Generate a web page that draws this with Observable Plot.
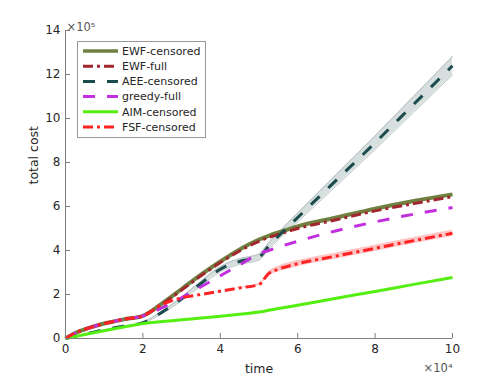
<!DOCTYPE html>
<html><head><meta charset="utf-8">
<script src="https://cdn.jsdelivr.net/npm/d3@7"></script>
<script src="https://cdn.jsdelivr.net/npm/@observablehq/plot@0.6"></script>
<style>
body{margin:0;background:#fff;}
#chart{position:relative;width:498px;height:380px;}
</style>
</head><body><div id="chart"></div>
<script>
// time in units of 1e4, cost in units of 1e5
const time         = [0, 0.25, 0.5, 1, 1.5, 2, 2.5, 3, 3.5, 4, 4.5, 5, 5.25, 5.5, 6, 7, 8, 9, 10];
const ewfCensored  = [0, 0.25, 0.42, 0.68, 0.87, 1.03, 1.60, 2.25, 2.90, 3.50, 4.05, 4.50, 4.67, 4.82, 5.10, 5.50, 5.90, 6.25, 6.55];
const ewfFull      = [0, 0.25, 0.42, 0.68, 0.87, 1.03, 1.57, 2.20, 2.85, 3.45, 3.98, 4.42, 4.59, 4.73, 5.00, 5.40, 5.80, 6.13, 6.45];
const aeeCensored  = [0, 0.10, 0.20, 0.40, 0.56, 0.72, 1.20, 1.80, 2.50, 3.15, 3.50, 3.70, 4.20, 4.65, 5.50, 7.20, 8.90, 10.65, 12.40];
const aeeSpread    = [0, 0, 0, 0, 0, 0.02, 0.05, 0.08, 0.10, 0.12, 0.13, 0.14, 0.15, 0.16, 0.20, 0.26, 0.31, 0.36, 0.42];
const greedyFull   = [0, 0.25, 0.42, 0.68, 0.87, 1.03, 1.40, 1.85, 2.35, 2.85, 3.35, 3.85, 4.00, 4.15, 4.42, 4.90, 5.30, 5.65, 5.95];
const aimCensored  = [0, 0.09, 0.18, 0.35, 0.52, 0.68, 0.77, 0.85, 0.93, 1.01, 1.10, 1.20, 1.28, 1.36, 1.51, 1.83, 2.14, 2.46, 2.77];
const fsfCensored  = [0, 0.25, 0.42, 0.68, 0.87, 1.03, 1.55, 1.85, 2.00, 2.15, 2.30, 2.45, 2.95, 3.15, 3.40, 3.75, 4.10, 4.45, 4.78];
const fsfSpread    = [0, 0, 0, 0, 0, 0, 0, 0, 0, 0, 0.02, 0.05, 0.10, 0.13, 0.14, 0.14, 0.14, 0.14, 0.14];

const seriesNames  = ["EWF-censored", "EWF-full", "AEE-censored", "greedy-full", "AIM-censored", "FSF-censored"];
const seriesValues = [ewfCensored, ewfFull, aeeCensored, greedyFull, aimCensored, fsfCensored];
const seriesColors = ["#6f8040", "#a3262e", "#1c4b4d", "#c22fde", "#55ee11", "#ff2222"];
const seriesDash   = [null, "10,4,3,4", "12,12", "12,12", null, "10,4,3,4"];
const seriesWidth  = [4, 3, 3, 3, 3, 3];

const xTicks = [0, 2, 4, 6, 8, 10];
const yTicks = [0, 2, 4, 6, 8, 10, 12, 14];

const rowsOf = (vals, spread) => time.map((t, i) => ({t, v: vals[i], lo: vals[i] - (spread ? spread[i] : 0), hi: vals[i] + (spread ? spread[i] : 0)}));

const marks = [
  Plot.areaY(rowsOf(aeeCensored, aeeSpread), {x: "t", y1: "lo", y2: "hi", fill: "#d6dede", curve: "monotone-x"}),
  Plot.line(rowsOf(aeeCensored, aeeSpread), {x: "t", y: "lo", stroke: "#aab6b6", strokeWidth: 0.8, curve: "monotone-x"}),
  Plot.line(rowsOf(aeeCensored, aeeSpread), {x: "t", y: "hi", stroke: "#aab6b6", strokeWidth: 0.8, curve: "monotone-x"}),
  Plot.areaY(rowsOf(fsfCensored, fsfSpread), {x: "t", y1: "lo", y2: "hi", fill: "#ffc4c4", curve: "monotone-x"}),
];
seriesNames.forEach((name, k) => {
  marks.push(Plot.line(rowsOf(seriesValues[k]), {
    x: "t", y: "v", stroke: seriesColors[k], strokeWidth: seriesWidth[k],
    strokeDasharray: seriesDash[k], curve: "monotone-x", strokeLinecap: "butt"
  }));
});
marks.push(
  Plot.ruleX([0], {stroke: "#808080", strokeWidth: 1}),
  Plot.ruleY([0], {stroke: "#808080", strokeWidth: 1}),
  Plot.axisX({ticks: xTicks, tickSize: -5, tickPadding: 11, stroke: "#808080", label: null, tickFormat: d => String(d), fill: "#262626"}),
  Plot.axisY({ticks: yTicks, tickSize: -5, tickPadding: 10, stroke: "#808080", label: null, tickFormat: d => String(d), fill: "#262626"}),
  Plot.text(["time"], {frameAnchor: "bottom", dy: 30, lineAnchor: "middle", fill: "#262626", fontSize: 12.5}),
  Plot.text(["total cost"], {frameAnchor: "left", dx: -32, rotate: -90, lineAnchor: "middle", fill: "#262626", fontSize: 12.5}),
  Plot.text(["\u00d710\u2075"], {frameAnchor: "top-left", textAnchor: "start", dy: -8, dx: 1, fill: "#555", fontSize: 11.5}),
  Plot.text(["\u00d710\u2074"], {frameAnchor: "bottom-right", textAnchor: "end", dy: 33, fill: "#555", fontSize: 11.5})
);

const svg = Plot.plot({
  width: 498, height: 380,
  marginLeft: 65, marginRight: 46, marginTop: 30, marginBottom: 42,
  x: {domain: [0, 10]},
  y: {domain: [0, 14]},
  style: {fontFamily: "DejaVu Sans", fontSize: "12px", background: "#fff", color: "#262626"},
  marks
});
document.getElementById("chart").appendChild(svg);

// legend
const g = d3.select(svg).append("g").attr("font-family", "DejaVu Sans").attr("font-size", 11).attr("text-anchor", "start");
g.append("rect").attr("x", 77.5).attr("y", 41.5).attr("width", 128).attr("height", 96)
  .attr("fill", "#fff").attr("stroke", "#999").attr("stroke-width", 1);
seriesNames.forEach((name, k) => {
  const yy = 51 + k * 15.2;
  g.append("line").attr("x1", 83).attr("x2", 118).attr("y1", yy).attr("y2", yy)
    .attr("stroke", seriesColors[k]).attr("stroke-width", seriesWidth[k] === 4 ? 3.5 : 3)
    .attr("stroke-dasharray", seriesDash[k]);
  g.append("text").attr("x", 122).attr("y", yy).attr("dy", "0.35em").attr("text-anchor", "start")
    .attr("fill", "#262626").text(name);
});
</script>
</body></html>
